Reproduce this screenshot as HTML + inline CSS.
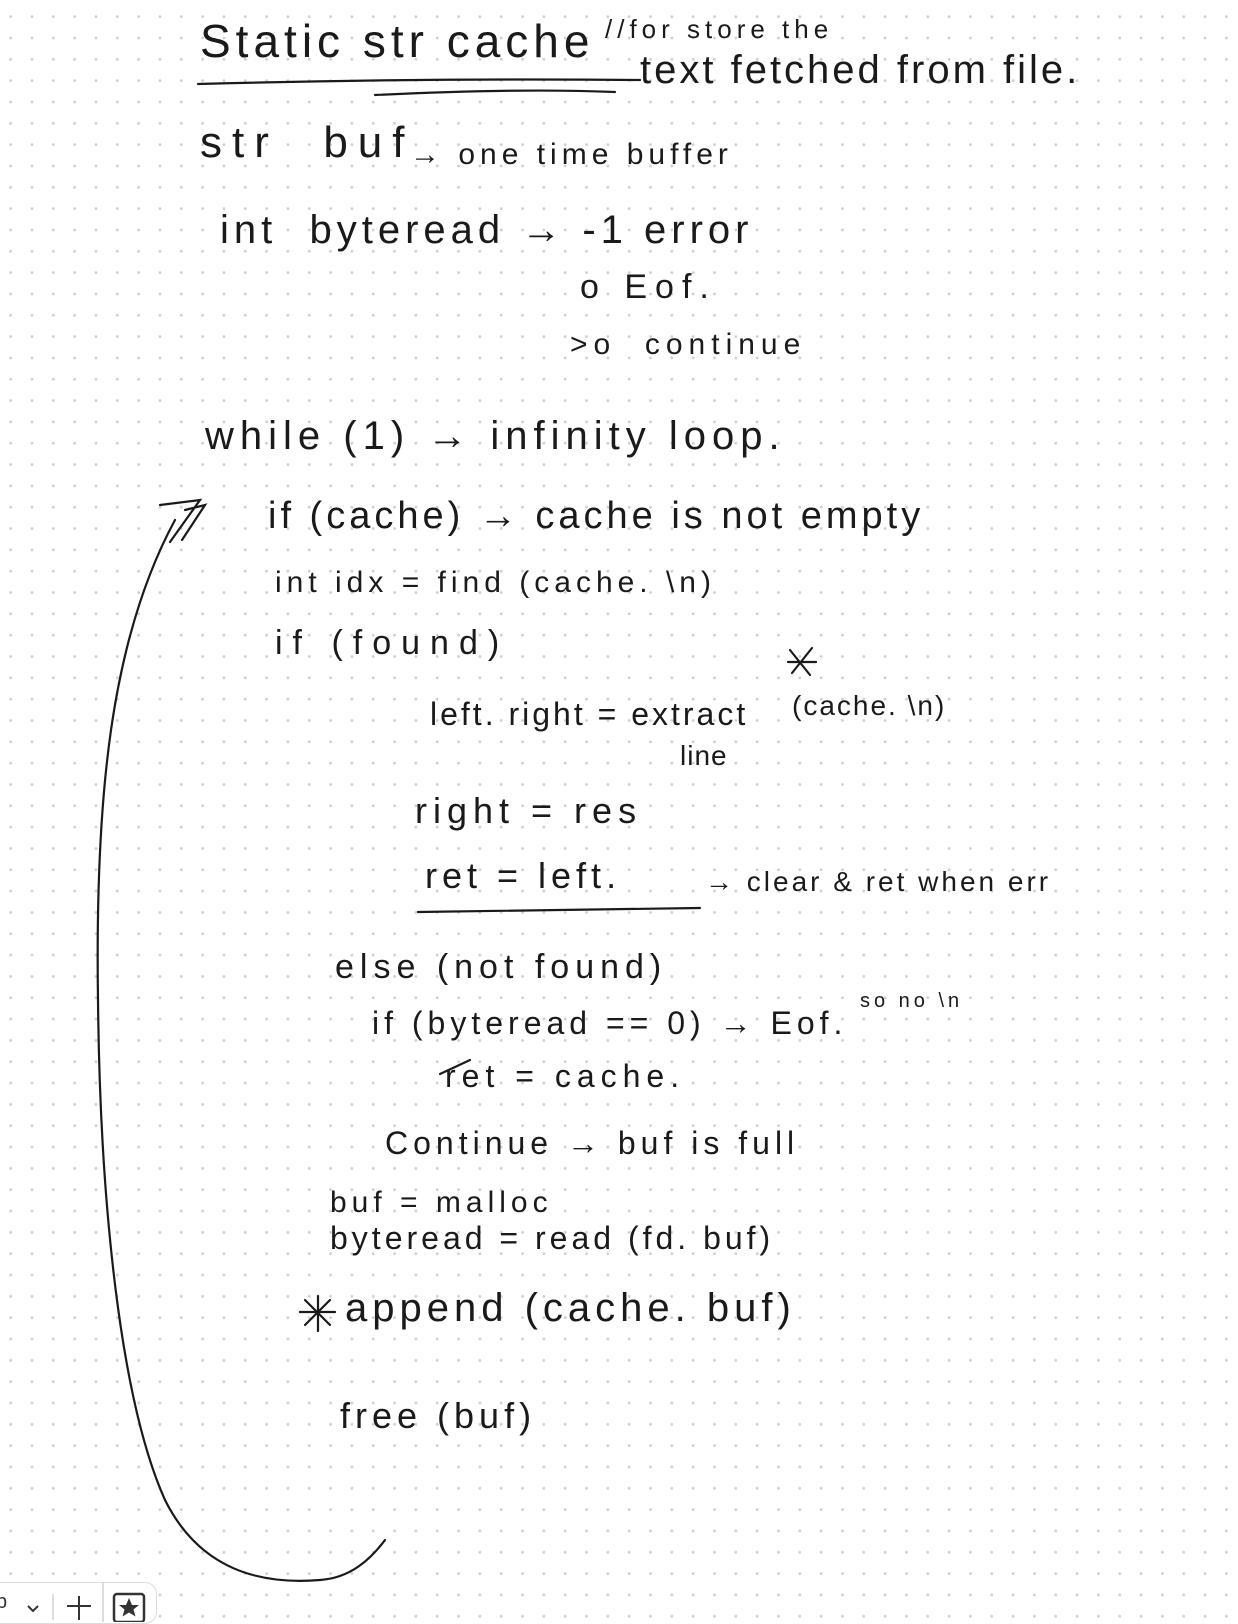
<!DOCTYPE html>
<html><head><meta charset="utf-8">
<style>
html,body{margin:0;padding:0;}
body{width:1238px;height:1614px;position:relative;overflow:hidden;background:#fff;
background-image:radial-gradient(circle,#cfcfcf 1.3px,transparent 1.6px);
background-size:21.33px 21.33px;background-position:0px 6px;
font-family:"Liberation Sans",sans-serif;color:#1a1a1a;}
.t{position:absolute;white-space:nowrap;font-weight:normal;letter-spacing:1px;}
svg{position:absolute;left:0;top:0;}
.tb{position:absolute;left:-10px;top:1582px;width:165px;height:40px;border:1px solid #ddd;border-radius:12px;background:#fff;}
</style></head><body>
<div class="t" style="left:200px;top:14px;font-size:46px;letter-spacing:5px;">Static str cache</div>
<div class="t" style="left:605px;top:14px;font-size:26px;letter-spacing:5px;">//for store the</div>
<div class="t" style="left:640px;top:48px;font-size:40px;letter-spacing:3px;">text fetched from file.</div>
<div class="t" style="left:200px;top:118px;font-size:44px;letter-spacing:10px;">str&nbsp; buf</div>
<div class="t" style="left:410px;top:138px;font-size:30px;letter-spacing:5px;">→ one time buffer</div>
<div class="t" style="left:220px;top:208px;font-size:40px;letter-spacing:5px;">int&nbsp; byteread → -1 error</div>
<div class="t" style="left:580px;top:268px;font-size:34px;letter-spacing:8px;">o Eof.</div>
<div class="t" style="left:570px;top:328px;font-size:30px;letter-spacing:6px;">&gt;o&nbsp; continue</div>
<div class="t" style="left:205px;top:414px;font-size:40px;letter-spacing:6px;">while (1) → infinity loop.</div>
<div class="t" style="left:268px;top:495px;font-size:38px;letter-spacing:4px;">if (cache) → cache is not empty</div>
<div class="t" style="left:275px;top:566px;font-size:30px;letter-spacing:5px;">int idx = find (cache. \n)</div>
<div class="t" style="left:275px;top:624px;font-size:34px;letter-spacing:10px;">if (found)</div>
<div class="t" style="left:430px;top:696px;font-size:32px;letter-spacing:3px;">left. right = extract</div>
<div class="t" style="left:792px;top:690px;font-size:28px;letter-spacing:2px;">(cache. \n)</div>
<div class="t" style="left:680px;top:740px;font-size:28px;">line</div>
<div class="t" style="left:415px;top:790px;font-size:36px;letter-spacing:6px;">right = res</div>
<div class="t" style="left:425px;top:855px;font-size:36px;letter-spacing:5px;">ret = left.</div>
<div class="t" style="left:705px;top:866px;font-size:28px;letter-spacing:3px;">→ clear &amp; ret when err</div>
<div class="t" style="left:335px;top:948px;font-size:34px;letter-spacing:6px;">else (not found)</div>
<div class="t" style="left:372px;top:1005px;font-size:32px;letter-spacing:5px;">if (byteread == 0) → Eof.</div>
<div class="t" style="left:860px;top:990px;font-size:20px;letter-spacing:4px;">so no \n</div>
<div class="t" style="left:445px;top:1058px;font-size:32px;letter-spacing:6px;">ret = cache.</div>
<div class="t" style="left:385px;top:1125px;font-size:32px;letter-spacing:5px;">Continue → buf is full</div>
<div class="t" style="left:330px;top:1186px;font-size:30px;letter-spacing:5px;">buf = malloc</div>
<div class="t" style="left:330px;top:1220px;font-size:32px;letter-spacing:4px;">byteread = read (fd. buf)</div>
<div class="t" style="left:345px;top:1286px;font-size:40px;letter-spacing:5px;">append (cache. buf)</div>
<div class="t" style="left:340px;top:1395px;font-size:36px;letter-spacing:5px;">free (buf)</div>
<svg width="1238" height="1614" viewBox="0 0 1238 1614" fill="none" stroke="#1a1a1a" stroke-width="2.2" stroke-linecap="round">
<path d="M198 84 Q420 78 640 80"/>
<path d="M375 95 Q520 88 615 92"/>
<path d="M418 912 L700 908"/>
<path d="M440 1074 L470 1060"/>
<path d="M305 1300 l25 25 M330 1300 l-25 25 M300 1312 h35 M318 1296 v35"/>
<path d="M790 650 l20 25 M812 648 l-20 25 M788 662 h28"/>
<path d="M160 505 L200 500 L170 542"/>
<path d="M185 510 L205 505 L182 540"/>
<path d="M175 520 C110 640 95 800 98 1000 C100 1200 120 1400 165 1500 C200 1570 260 1585 320 1580 C350 1578 370 1560 385 1540"/>
</svg>
<div class="tb"></div>
<svg width="170" height="40" style="left:0;top:1582px;" fill="none" stroke="#333" stroke-width="2">
<text x="-4" y="26" font-size="20" fill="#333" stroke="none" font-family="Liberation Sans">b</text>
<path d="M28 24 l5 5 l5 -5"/>
<path d="M53 12 v26" stroke="#ddd"/>
<path d="M79 14 v24 M67 24 h24"/>
<path d="M103 0 v40" stroke="#ddd"/>
<rect x="114" y="12" width="30" height="28" rx="3" stroke-width="2.5"/>
<path d="M129 16 l3 7 l7 0 l-5.5 4.5 l2 7 l-6.5 -4 l-6.5 4 l2 -7 l-5.5 -4.5 l7 0 z" fill="#333" stroke="none"/>
</svg>
</body></html>
